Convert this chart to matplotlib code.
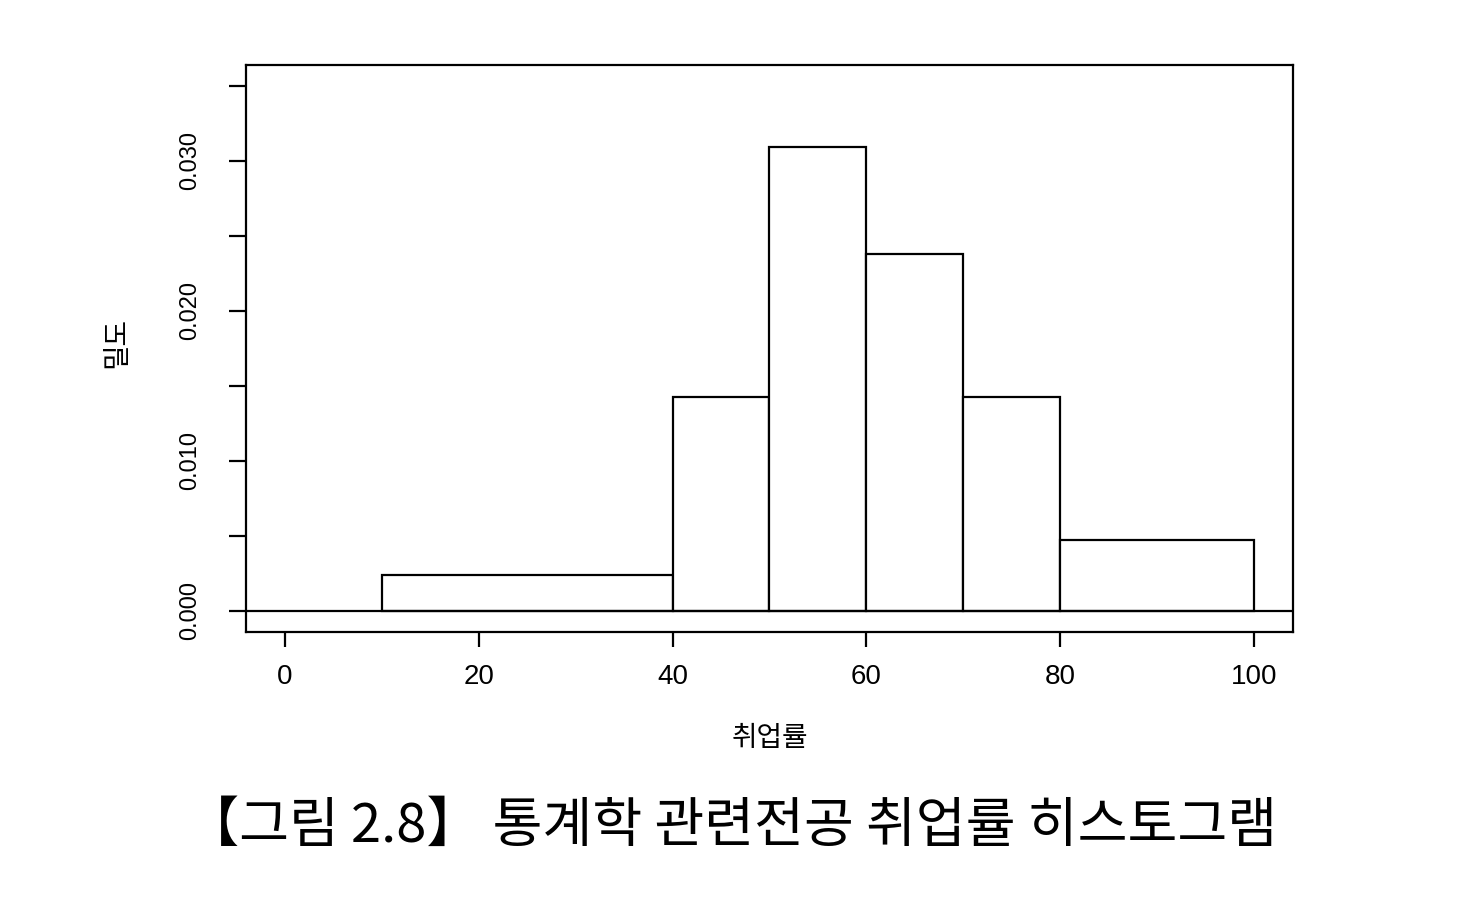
#!/usr/bin/env python3

import matplotlib
matplotlib.use('Agg')
import matplotlib.pyplot as plt
import numpy as np

# 취업률 구간과 도수 (n = 42)
bin_edges = [10, 40, 50, 60, 70, 80, 100]
counts = [3, 6, 13, 10, 6, 4]

x_ticks = [0, 20, 40, 60, 80, 100]
y_ticks = [0.000, 0.005, 0.010, 0.015, 0.020, 0.025, 0.030, 0.035]
y_tick_labels = ['0.000', '', '0.010', '', '0.020', '', '0.030', '']

x_label = '취업률'
y_label = '밀도'
caption = '【그림 2.8】 통계학 관련전공 취업률 히스토그램'

KR = ['Noto Sans CJK KR', 'DejaVu Sans']
NUM = ['Liberation Sans', 'DejaVu Sans']


def main():
    edges = np.array(bin_edges, dtype=float)
    widths = np.diff(edges)
    n = sum(counts)
    density = np.array(counts) / (n * widths)

    fig = plt.figure(figsize=(14.7, 9.1), dpi=100)
    ax = fig.add_axes([0.1673, 0.3055, 0.7123, 0.6231])

    ax.bar(edges[:-1], density, width=widths, align='edge',
           facecolor='white', edgecolor='black', linewidth=1.6)
    ax.axhline(0, color='black', linewidth=1.6)

    ax.set_xlim(-4, 104)
    ax.set_ylim(-0.0014, 0.0364)

    for s in ax.spines.values():
        s.set_linewidth(1.6)

    ax.set_xticks(x_ticks)
    ax.set_xticklabels([str(v) for v in x_ticks], family=NUM, fontsize=20)
    ax.set_yticks(y_ticks)
    ax.set_yticklabels(y_tick_labels, family=NUM, fontsize=17,
                       rotation=90, va='center')
    ax.tick_params(axis='x', length=11, width=1.6, pad=12)
    ax.tick_params(axis='y', length=12, width=1.6, pad=20)

    ax.set_xlabel(x_label, family=KR, fontsize=20)
    ax.xaxis.set_label_coords(0.5, -0.16)
    ax.set_ylabel(y_label, family=KR, fontsize=20)
    ax.yaxis.set_label_coords(-0.11, 0.51)

    fig.text(0.497, 0.092, caption, family=KR, fontsize=39,
             ha='center', va='center')

    fig.savefig('out.png', dpi=100)


if __name__ == '__main__':
    main()
